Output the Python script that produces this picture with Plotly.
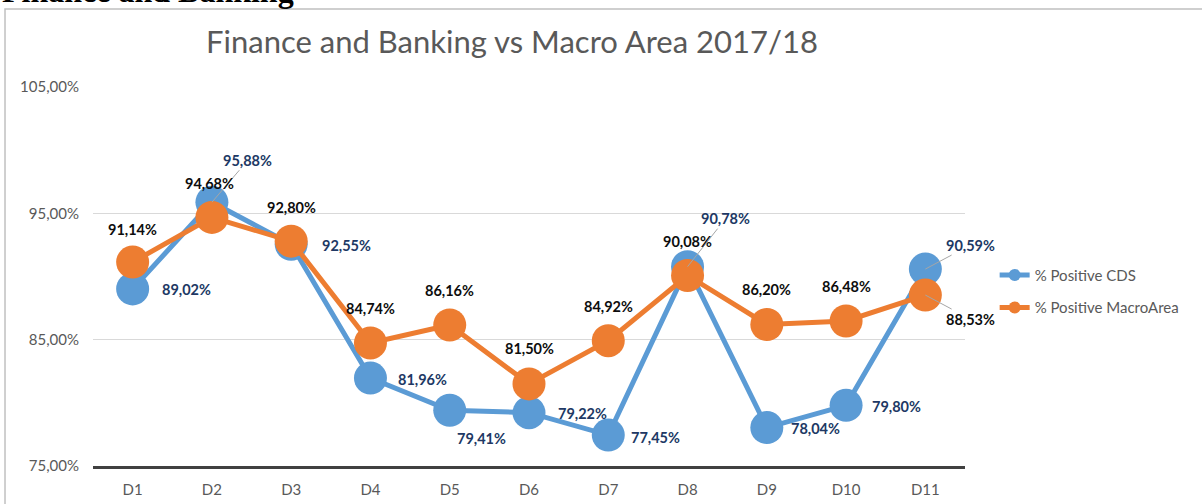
import plotly.graph_objects as go

categories = ["D1", "D2", "D3", "D4", "D5", "D6", "D7", "D8", "D9", "D10", "D11"]
cds = [89.02, 95.88, 92.55, 81.96, 79.41, 79.22, 77.45, 90.78, 78.04, 79.80, 90.59]
macro = [91.14, 94.68, 92.80, 84.74, 86.16, 81.50, 84.92, 90.08, 86.20, 86.48, 88.53]
y_ticks = [75, 85, 95, 105]
y_tick_text = ["75,00%", "85,00%", "95,00%", "105,00%"]

title = "Finance and Banking vs Macro Area 2017/18"
header = "Finance and Banking"

BLUE = "#5B9BD5"
ORANGE = "#ED7D31"
NAVY = "#203864"
GREY = "#595959"
FONT = "Lato, 'Open Sans', sans-serif"

# label offsets in pixels (dx, dy) and whether a leader line is drawn
cds_off = [(54, 1), (36, -42), (55, 1), (52, 1), (32, 28), (53, 1), (47, 2), (38, -48), (49, 1), (50, 1), (45, -24)]
cds_leader = [False, True, False, False, False, False, False, True, False, False, True]
macro_off = [(0, -33), (-2, -34), (0, -34), (0, -34), (0, -35), (0, -35), (0, -34), (0, -34), (0, -35), (0, -34), (45, 24)]
macro_leader = [False] * 10 + [True]


def fmt(v):
    return f"{v:.2f}%".replace(".", ",")


fig = go.Figure()
fig.add_trace(go.Scatter(
    x=categories, y=cds, name="% Positive CDS", mode="lines+markers",
    line=dict(color=BLUE, width=5), marker=dict(color=BLUE, size=33),
    legendgroup="a",
))
fig.add_trace(go.Scatter(
    x=categories, y=macro, name="% Positive MacroArea", mode="lines+markers",
    line=dict(color=ORANGE, width=5), marker=dict(color=ORANGE, size=33),
    legendgroup="b",
))

annotations = []
for cat, v, (dx, dy), ld in zip(categories, cds, cds_off, cds_leader):
    annotations.append(dict(
        x=cat, y=v, xref="x", yref="y", text=fmt(v), showarrow=True,
        ax=dx, ay=dy, axref="pixel", ayref="pixel",
        arrowhead=0, arrowwidth=1, standoff=0,
        arrowcolor="#a6a6a6" if ld else "rgba(0,0,0,0)",
        font=dict(family=FONT, size=14.5, color=NAVY, weight="bold"),
    ))
for cat, v, (dx, dy), ld in zip(categories, macro, macro_off, macro_leader):
    annotations.append(dict(
        x=cat, y=v, xref="x", yref="y", text=fmt(v), showarrow=True,
        ax=dx, ay=dy, axref="pixel", ayref="pixel",
        arrowhead=0, arrowwidth=1, standoff=0,
        arrowcolor="#a6a6a6" if ld else "rgba(0,0,0,0)",
        font=dict(family=FONT, size=14.5, color="#0d0d0d", weight="bold"),
    ))

annotations.append(dict(
    x=-0.1067, y=1.2536, xref="paper", yref="paper", xanchor="left", yanchor="middle",
    text=header, showarrow=False,
    font=dict(family="Liberation Serif, serif", size=32, color="#000000", weight="bold"),
))

fig.update_layout(
    width=1202, height=504,
    margin=dict(l=93, r=237, t=87, b=38),
    paper_bgcolor="white", plot_bgcolor="white",
    separators=",.",
    title=dict(text=title, x=0.4805, xref="paper", xanchor="center", y=0.917, yanchor="middle",
               font=dict(family=FONT, size=31, color=GREY)),
    showlegend=True,
    legend=dict(x=1.034, y=0.547, xanchor="left", yanchor="top",
                font=dict(family=FONT, size=15, color=GREY), itemsizing="constant",
                tracegroupgap=10, bgcolor="rgba(0,0,0,0)"),
    annotations=annotations,
    shapes=[dict(type="rect", xref="paper", yref="paper",
                 x0=-0.1009, x1=1.35, y0=-0.2, y1=1.2058,
                 line=dict(color="#c0c0c0", width=1.5), layer="below")],
    font=dict(family=FONT),
)
fig.update_xaxes(
    type="category", range=[-0.5, 10.5], showgrid=False, automargin=False,
    showline=True, linecolor="#404040", linewidth=3,
    tickfont=dict(family=FONT, size=15, color=GREY), ticks="",
    ticklabelstandoff=8,
)
fig.update_yaxes(
    range=[75, 105], tickvals=y_ticks, ticktext=y_tick_text, automargin=False,
    showgrid=True, gridcolor="#d9d9d9", gridwidth=1, zeroline=False,
    showline=False, ticks="", tickfont=dict(family=FONT, size=15, color=GREY),
    ticklabelstandoff=13,
)

fig.write_html(
    "out.html",
    config={"displayModeBar": False},
    post_script="document.body.style.margin='0';document.body.style.overflow='hidden';",
)
